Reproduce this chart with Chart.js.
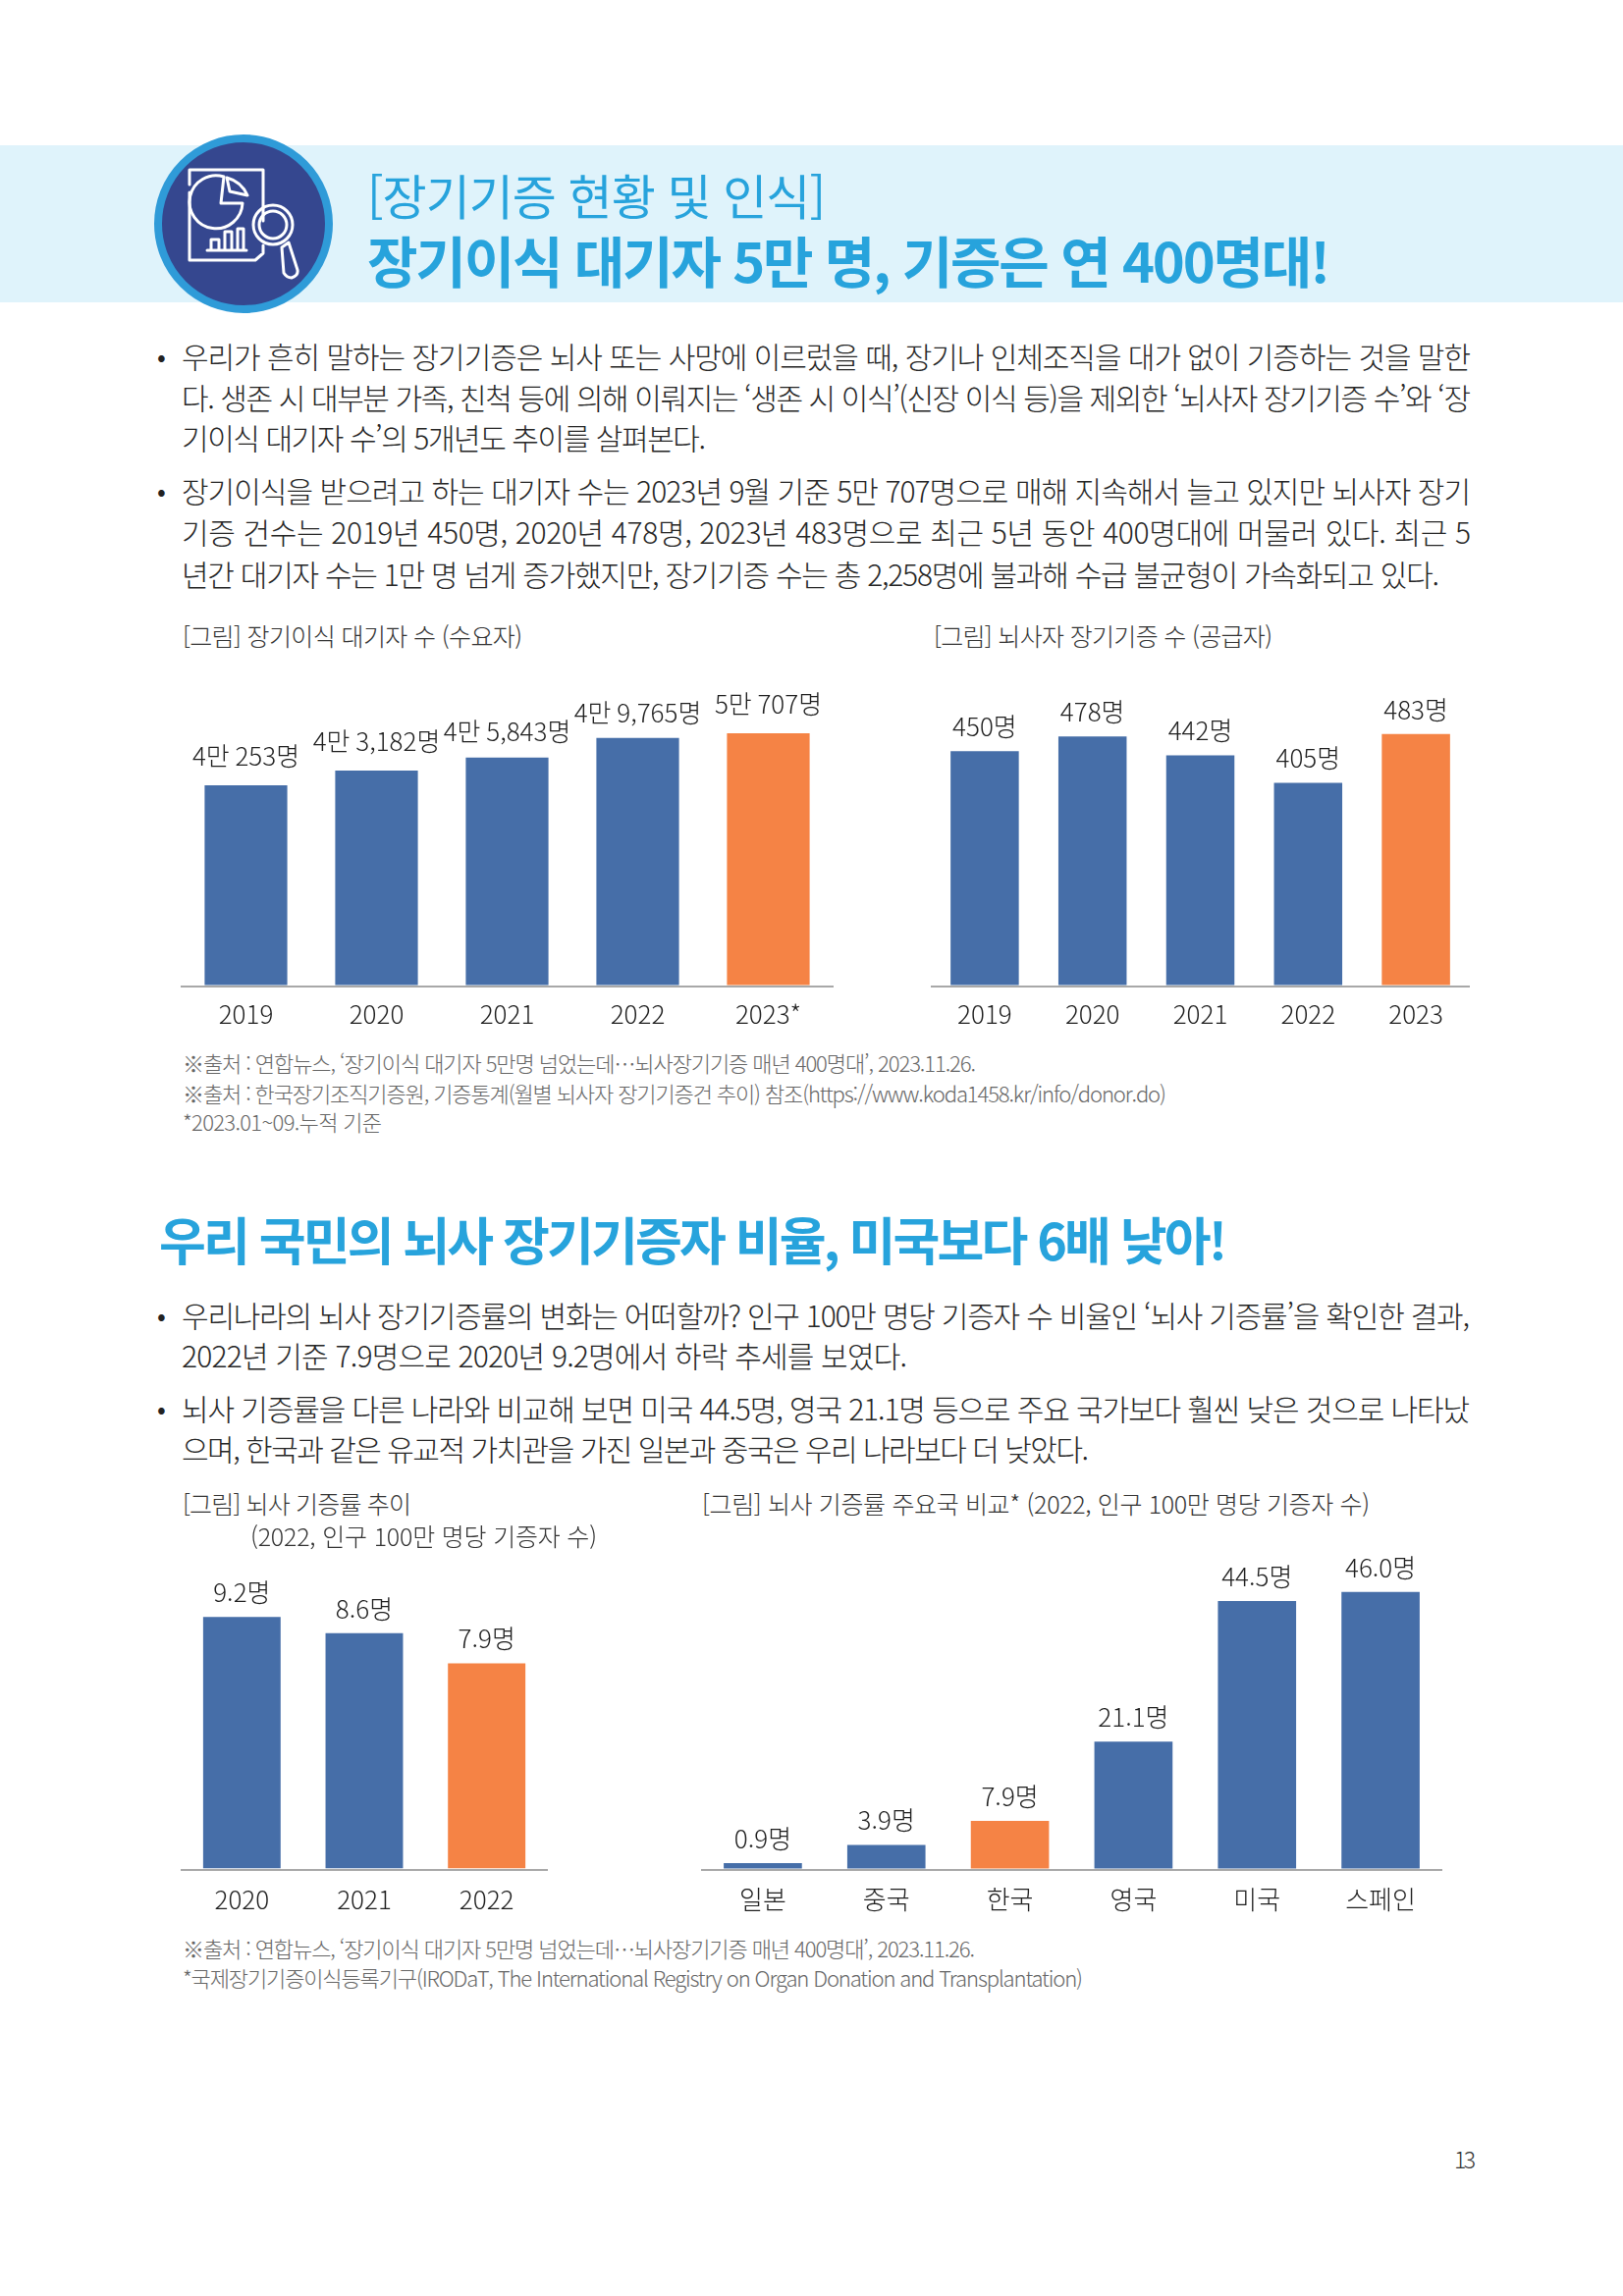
<!DOCTYPE html>
<html lang="ko">
<head>
<meta charset="utf-8">
<title>장기기증 현황 및 인식</title>
<script src="https://cdn.jsdelivr.net/npm/chart.js@4/dist/chart.umd.min.js"></script>
<style>
html, body { margin: 0; padding: 0; background: #fff; }
#page { position: relative; width: 1653px; height: 2339px; overflow: hidden; font-family: "Noto Sans CJK KR", "Noto Sans", sans-serif; }
#band { position: absolute; left: 0; top: 148px; width: 1653px; height: 160px; background: #dff3fb; }
#icon { position: absolute; left: 0; top: 0; }
.line { position: absolute; white-space: nowrap; line-height: 1; transform-origin: left center; }
canvas { position: absolute; }
</style>
</head>
<body>
<div id="page">
  <div id="band"></div>
  <svg id="icon" width="400" height="340" fill="none" stroke="#fff" stroke-width="3" stroke-linecap="round" stroke-linejoin="round">
    <circle cx="248" cy="228" r="87" fill="#35478f" stroke="#2f9bd8" stroke-width="8"/>
    <path d="M193 188V173H268V225M193 196V265H260L268 258V250"/>
    <path d="M228 180A27 27 0 1 0 247 207H225L228 180Z"/>
    <path d="M231 181A32 32 0 0 1 252 199L234 195Z"/>
    <path d="M211 255H251M215 255V244H223V255M229 255V236H236V255M242 255V233H248V255"/>
    <circle cx="278" cy="229" r="20"/>
    <circle cx="278" cy="229" r="14"/>
    <path d="M287 252L294 247L303 275Q304 281 297 283Q292 283 289 278Z"/>
  </svg>
  <canvas id="chartDemand"></canvas>
  <canvas id="chartSupply"></canvas>
  <canvas id="chartRate"></canvas>
  <canvas id="chartCountry"></canvas>
</div>
<script>
// chart data
var demandYears = ['2019', '2020', '2021', '2022', '2023*'];
var demandValues = [40253, 43182, 45843, 49765, 50707];
var demandLabels = ['4만 253명', '4만 3,182명', '4만 5,843명', '4만 9,765명', '5만 707명'];

// the 2022 bars in these two charts are drawn shorter than their printed
// labels, so the bar heights read from the picture are kept next to the labels
var supplyYears = ['2019', '2020', '2021', '2022', '2023'];
var supplyValues = [450, 478, 442, 389, 483];
var supplyLabels = ['450명', '478명', '442명', '405명', '483명'];

var rateYears = ['2020', '2021', '2022'];
var rateValues = [9.2, 8.6, 7.5];
var rateLabels = ['9.2명', '8.6명', '7.9명'];

var countries = ['일본', '중국', '한국', '영국', '미국', '스페인'];
var countryValues = [0.9, 3.9, 7.9, 21.1, 44.5, 46.0];
var countryLabels = ['0.9명', '3.9명', '7.9명', '21.1명', '44.5명', '46.0명'];

var BLUE = '#466ea8';
var ORANGE = '#f58345';
var FONT = '"Noto Sans CJK KR", "Noto Sans", sans-serif';

// page text, each line is stretched to the width it has on the page
var bodyLines = [
    ['우리가 흔히 말하는 장기기증은 뇌사 또는 사망에 이르렀을 때, 장기나 인체조직을 대가 없이 기증하는 것을 말한', 185, 365, 1498],
    ['다. 생존 시 대부분 가족, 친척 등에 의해 이뤄지는 ‘생존 시 이식’(신장 이식 등)을 제외한 ‘뇌사자 장기기증 수’와 ‘장', 185, 407, 1498],
    ['기이식 대기자 수’의 5개년도 추이를 살펴본다.', 185, 448, 719],
    ['장기이식을 받으려고 하는 대기자 수는 2023년 9월 기준 5만 707명으로 매해 지속해서 늘고 있지만 뇌사자 장기', 185, 502, 1498],
    ['기증 건수는 2019년 450명, 2020년 478명, 2023년 483명으로 최근 5년 동안 400명대에 머물러 있다. 최근 5', 185, 544, 1498],
    ['년간 대기자 수는 1만 명 넘게 증가했지만, 장기기증 수는 총 2,258명에 불과해 수급 불균형이 가속화되고 있다.', 185, 587, 1466],
    ['우리나라의 뇌사 장기기증률의 변화는 어떠할까? 인구 100만 명당 기증자 수 비율인 ‘뇌사 기증률’을 확인한 결과,', 185, 1342, 1497],
    ['2022년 기준 7.9명으로 2020년 9.2명에서 하락 추세를 보였다.', 185, 1383, 924],
    ['뇌사 기증률을 다른 나라와 비교해 보면 미국 44.5명, 영국 21.1명 등으로 주요 국가보다 훨씬 낮은 것으로 나타났', 185, 1437, 1497],
    ['으며, 한국과 같은 유교적 가치관을 가진 일본과 중국은 우리 나라보다 더 낮았다.', 185, 1478, 1109]
];
var captionLines = [
    ['[그림] 장기이식 대기자 수 (수요자)', 186, 650, 532],
    ['[그림] 뇌사자 장기기증 수 (공급자)', 951, 650, 1296],
    ['[그림] 뇌사 기증률 추이', 186, 1534, 419],
    ['(2022, 인구 100만 명당 기증자 수)', 255, 1567, 608],
    ['[그림] 뇌사 기증률 주요국 비교* (2022, 인구 100만 명당 기증자 수)', 715, 1534, 1395]
];
var sourceLines = [
    ['※출처 : 연합뉴스, ‘장기이식 대기자 5만명 넘었는데…뇌사장기기증 매년 400명대’, 2023.11.26.', 186, 1084, 994],
    ['※출처 : 한국장기조직기증원, 기증통계(월별 뇌사자 장기기증건 추이) 참조(https://www.koda1458.kr/info/donor.do)', 186, 1115, 1188],
    ['*2023.01~09.누적 기준', 186, 1144, 389],
    ['※출처 : 연합뉴스, ‘장기이식 대기자 5만명 넘었는데…뇌사장기기증 매년 400명대’, 2023.11.26.', 186, 1986, 993],
    ['*국제장기기증이식등록기구(IRODaT, The International Registry on Organ Donation and Transplantation)', 186, 2016, 1103]
];

function putLine(item, size, color, weight) {
    var el = document.createElement('div');
    el.className = 'line';
    el.textContent = item[0];
    el.style.left = item[1] + 'px';
    el.style.fontSize = size + 'px';
    el.style.color = color;
    el.style.fontWeight = weight;
    document.getElementById('page').appendChild(el);
    el.style.top = (item[2] - el.offsetHeight / 2 - size * 0.1) + 'px';
    var chars = item[0].length - 1;
    var gap = (item[3] - item[1] - el.getBoundingClientRect().width) / chars;
    el.style.letterSpacing = gap.toFixed(3) + 'px';
}

function addBullet(x, y) {
    putLine(['•', x, y, x + 12], 26, '#222', 400);
}

var drawValueLabels = {
    id: 'valueLabels',
    afterDatasetsDraw: function (chart, args, opts) {
        var ctx = chart.ctx;
        var bars = chart.getDatasetMeta(0).data;
        ctx.save();
        ctx.font = '300 26px ' + FONT;
        ctx.fillStyle = '#1f1f1f';
        ctx.textAlign = 'center';
        ctx.textBaseline = 'middle';
        bars.forEach(function (bar, i) {
            var off = Array.isArray(opts.offset) ? opts.offset[i] : opts.offset;
            ctx.fillText(opts.texts[i], bar.x, bar.y - off);
        });
        ctx.restore();
    }
};

function makeChart(id, box, cats, values, highlight, texts, yMin, yMax, offset) {
    var canvas = document.getElementById(id);
    canvas.width = box.w;
    canvas.height = box.h;
    canvas.style.left = box.x + 'px';
    canvas.style.top = box.y + 'px';
    canvas.style.width = box.w + 'px';
    canvas.style.height = box.h + 'px';
    return new Chart(canvas.getContext('2d'), {
        type: 'bar',
        data: {
            labels: cats,
            datasets: [{
                data: values,
                backgroundColor: cats.map(function (c, i) { return i === highlight ? ORANGE : BLUE; }),
                categoryPercentage: 1,
                barPercentage: 0.633
            }]
        },
        options: {
            responsive: false,
            animation: false,
            devicePixelRatio: 1,
            layout: { padding: 0 },
            plugins: {
                legend: { display: false },
                tooltip: { enabled: false },
                valueLabels: { texts: texts, offset: offset }
            },
            scales: {
                x: {
                    grid: { display: false, drawTicks: false },
                    border: { color: '#a8a8a8', width: 2 },
                    afterFit: function (scale) { scale.height = 56; },
                    ticks: {
                        padding: box.tickPad,
                        color: '#1f1f1f',
                        maxRotation: 0,
                        font: { family: FONT, size: 26, weight: 300 }
                    }
                },
                y: { display: false, min: yMin, max: yMax }
            }
        },
        plugins: [drawValueLabels]
    });
}

putLine(['[장기기증 현황 및 인식]', 374, 202, 841], 49, '#27a3dc', 400);
putLine(['장기이식 대기자 5만 명, 기증은 연 400명대!', 374, 270, 1355], 56, '#27a3dc', 700);
putLine(['우리 국민의 뇌사 장기기증자 비율, 미국보다 6배 낮아!', 162, 1267, 1250], 52, '#27a3dc', 700);
bodyLines.forEach(function (l) { putLine(l, 30, '#262626', 300); });
captionLines.forEach(function (l) { putLine(l, 25, '#333', 300); });
sourceLines.forEach(function (l) { putLine(l, 22, '#666', 300); });
[365, 502, 1342, 1437].forEach(function (y) { addBullet(160, y); });
putLine(['13', 1481, 2202, 1503], 23, '#333', 300);

makeChart('chartDemand', { x: 184, y: 690, w: 665, h: 371, tickPad: 13 }, demandYears, demandValues, 4, demandLabels, -320, 62000, [30, 30, 27, 26, 30]);
makeChart('chartSupply', { x: 948, y: 690, w: 549, h: 371, tickPad: 13 }, supplyYears, supplyValues, 4, supplyLabels, -3, 592, 25);
makeChart('chartRate', { x: 184, y: 1560, w: 374, h: 401, tickPad: 15 }, rateYears, rateValues, 2, rateLabels, -0.06, 12.33, 25);
makeChart('chartCountry', { x: 714, y: 1560, w: 755, h: 401, tickPad: 15 }, countries, countryValues, 2, countryLabels, -0.25, 56.1, 25);
</script>
</body>
</html>
